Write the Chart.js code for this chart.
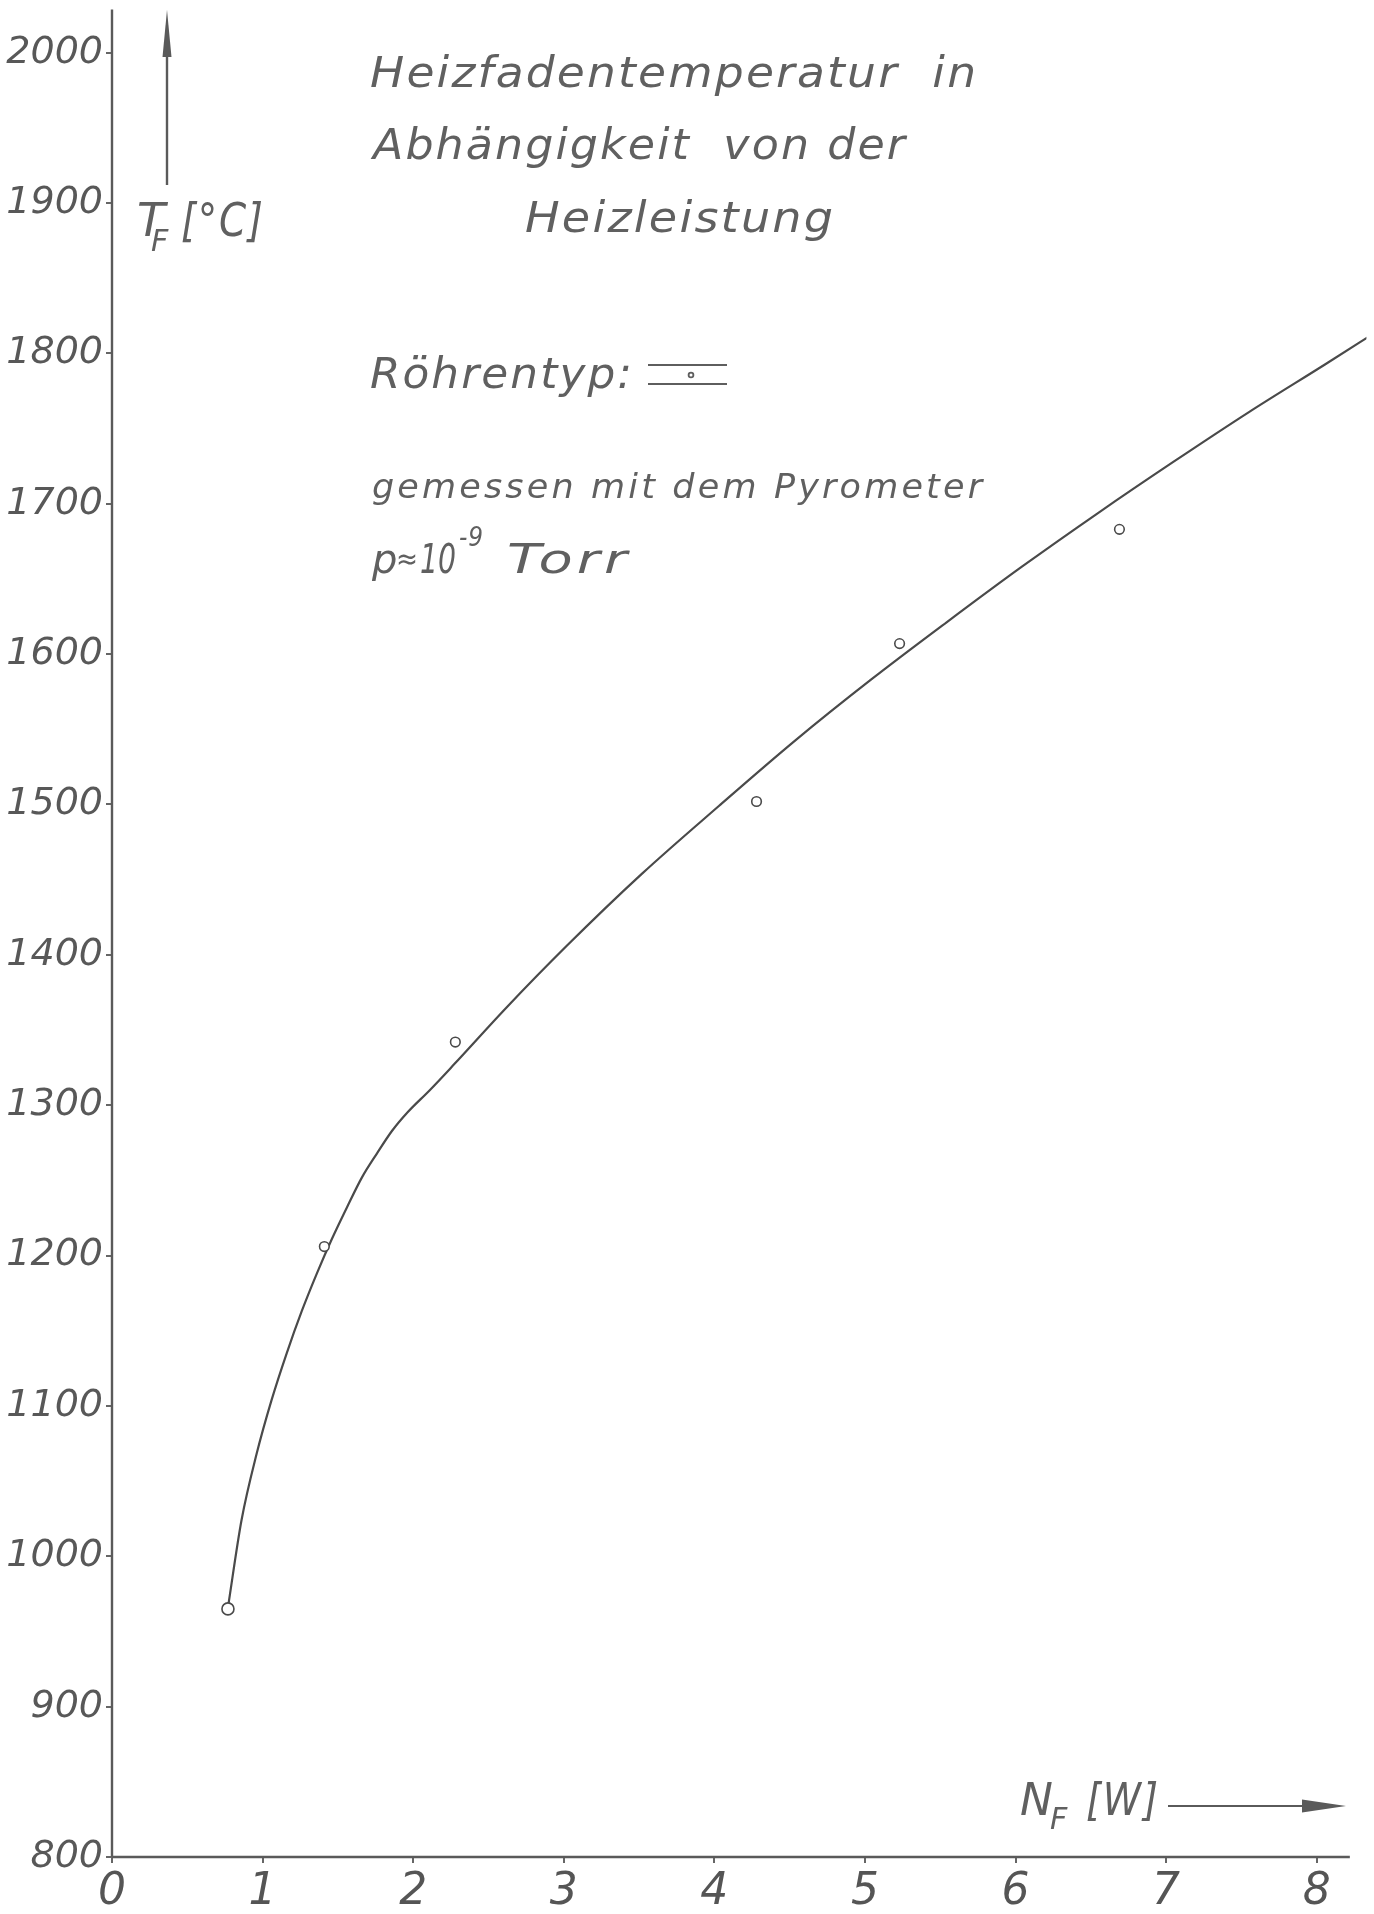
<!DOCTYPE html>
<html>
<head>
<meta charset="utf-8">
<title>Heizfadentemperatur in Abhängigkeit von der Heizleistung</title>
<script src="https://cdn.jsdelivr.net/npm/chart.js@4"></script>
<style>
  html, body { margin: 0; padding: 0; background: #ffffff; }
  #wrap { position: relative; width: 1374px; height: 1914px; }
  canvas { display: block; }
</style>
</head>
<body>
<div id="wrap"><canvas id="chart" width="1374" height="1914"></canvas></div>
<script>
// Measured points: heating power N_F [W] and filament temperature T_F [°C]
const measuredPowerW = [0.77, 1.41, 2.28, 4.28, 5.23, 6.69];
const measuredTempC  = [965, 1206, 1342, 1502, 1607, 1683];

// Hand-drawn fit curve through the measurements
const curvePowerW = [0.77, 0.86, 0.96, 1.06, 1.16, 1.26, 1.36, 1.46, 1.56, 1.66, 1.76, 1.86, 1.96,
                     2.11, 2.27, 2.62, 3.02, 3.52, 4.03, 4.53, 5.04, 5.54, 6.04, 6.55, 7.05, 7.55, 8.06, 8.39];
const curveTempC  = [966, 1024, 1068, 1104, 1135, 1163, 1188, 1211, 1232, 1252, 1268, 1283, 1295,
                     1310, 1327, 1365, 1406, 1454, 1499, 1542, 1583, 1621, 1658, 1694, 1728, 1761, 1793, 1814];

// Axis ticks
const xTicks = [0, 1, 2, 3, 4, 5, 6, 7, 8];
const yTicks = [800, 900, 1000, 1100, 1200, 1300, 1400, 1500, 1600, 1700, 1800, 1900, 2000];

// Caption lines
const titleLines = ['Heizfadentemperatur  in', 'Abhängigkeit  von der', 'Heizleistung'];
const tubeLabel = 'Röhrentyp:';
const methodLabel = 'gemessen mit dem Pyrometer';

const INK = '#4a4a4a';
const TEXT = '#606060';
const FONT = '"DejaVu Sans", "Liberation Sans", sans-serif';

// Draws lettering stretched horizontally to a given run length
function letter(ctx, str, x, y, size, width, spacing) {
  ctx.save();
  ctx.font = 'italic ' + size + 'px ' + FONT;
  ctx.letterSpacing = (spacing || 0) + 'px';
  const w = ctx.measureText(str).width - (spacing || 0);
  const sx = width ? width / w : 1;
  ctx.translate(x, y);
  ctx.scale(sx, 1);
  ctx.fillText(str, 0, 0);
  ctx.restore();
}

const annotations = {
  id: 'annotations',
  afterDraw(chart) {
    const ctx = chart.ctx;
    const xs = chart.scales.x, ys = chart.scales.y;
    ctx.save();

    // axis lines
    ctx.strokeStyle = '#5a5a5a';
    ctx.lineWidth = 2.4;
    ctx.beginPath();
    ctx.moveTo(xs.getPixelForValue(0), ys.getPixelForValue(800));
    ctx.lineTo(xs.getPixelForValue(8.22), ys.getPixelForValue(800));
    ctx.moveTo(xs.getPixelForValue(0), ys.getPixelForValue(800));
    ctx.lineTo(xs.getPixelForValue(0), chart.chartArea.top + 2);
    ctx.stroke();

    ctx.fillStyle = TEXT;
    ctx.textBaseline = 'alphabetic';
    ctx.textAlign = 'left';

    // caption
    letter(ctx, titleLines[0], 370, 87, 42, 606, 2);
    letter(ctx, titleLines[1], 373, 159, 42, 532, 2);
    letter(ctx, titleLines[2], 525, 232, 42, 308, 2);
    letter(ctx, tubeLabel, 370, 388, 42, 262, 2);

    // tube type mark
    ctx.strokeStyle = '#5e5e5e';
    ctx.lineWidth = 2.2;
    ctx.beginPath();
    ctx.moveTo(648, 365); ctx.lineTo(727, 365);
    ctx.moveTo(648, 384); ctx.lineTo(727, 384);
    ctx.stroke();
    ctx.beginPath();
    ctx.lineWidth = 1.8;
    ctx.arc(691, 375, 2.4, 0, Math.PI * 2);
    ctx.stroke();

    letter(ctx, methodLabel, 372, 498, 33, 610, 3);

    // pressure
    letter(ctx, 'p', 372, 573, 40, 0, 0);
    letter(ctx, '≈', 396, 569, 30, 22, 0);
    letter(ctx, '10', 420, 573, 40, 36, 0);
    letter(ctx, '-9', 459, 546, 27, 24, 1);
    letter(ctx, 'Torr', 507, 573, 40, 120, 3);

    // y axis title with arrow
    letter(ctx, 'T', 137, 236, 46, 0, 0);
    letter(ctx, 'F', 151, 251, 30, 0, 0);
    letter(ctx, '[°C]', 181, 236, 46, 82, 2);

    ctx.strokeStyle = '#5a5a5a';
    ctx.fillStyle = '#5a5a5a';
    ctx.lineWidth = 2.4;
    ctx.beginPath();
    ctx.moveTo(167, 185); ctx.lineTo(167, 30);
    ctx.stroke();
    ctx.beginPath();
    ctx.moveTo(167, 10); ctx.lineTo(171.5, 57); ctx.lineTo(162.5, 57); ctx.closePath();
    ctx.fill();

    // x axis title with arrow
    ctx.fillStyle = TEXT;
    letter(ctx, 'N', 1020, 1815, 44, 0, 0);
    letter(ctx, 'F', 1050, 1829, 30, 0, 0);
    letter(ctx, '[W]', 1086, 1815, 44, 72, 2);

    ctx.fillStyle = '#5a5a5a';
    ctx.lineWidth = 2;
    ctx.beginPath();
    ctx.moveTo(1168, 1806); ctx.lineTo(1320, 1806);
    ctx.stroke();
    ctx.beginPath();
    ctx.moveTo(1346, 1806); ctx.lineTo(1302, 1799.5); ctx.lineTo(1302, 1812.5); ctx.closePath();
    ctx.fill();

    ctx.restore();
  }
};

new Chart(document.getElementById('chart'), {
  type: 'scatter',
  data: {
    datasets: [
      {
        label: 'Messpunkte',
        data: measuredPowerW.map((x, i) => ({ x, y: measuredTempC[i] })),
        showLine: false,
        pointStyle: 'circle',
        pointRadius: measuredPowerW.map((x, i) => (i === 0 ? 6 : 4.8)),
        pointBorderWidth: 1.6,
        pointBorderColor: INK,
        pointBackgroundColor: '#ffffff',
        order: 1
      },
      {
        label: 'Kurve',
        data: curvePowerW.map((x, i) => ({ x, y: curveTempC[i] })),
        showLine: true,
        cubicInterpolationMode: 'monotone',
        borderColor: INK,
        borderWidth: 2.2,
        pointRadius: 0,
        order: 2
      }
    ]
  },
  options: {
    responsive: false,
    animation: false,
    devicePixelRatio: 1,
    layout: { padding: { top: 6, right: 0, bottom: 0, left: 0 } },
    plugins: {
      legend: { display: false },
      tooltip: { enabled: false },
      title: { display: false }
    },
    scales: {
      x: {
        type: 'linear',
        min: 0,
        max: 8.33,
        afterBuildTicks: s => { s.ticks = xTicks.map(v => ({ value: v })); },
        afterFit: s => { s.height = 57; s.paddingLeft = 0; s.paddingRight = 0; },
        grid: { display: true, drawOnChartArea: false, drawTicks: true, tickLength: 6, color: '#666', lineWidth: 2 },
        border: { display: false },
        ticks: {
          autoSkip: false,
          maxRotation: 0,
          padding: 3,
          color: '#555',
          callback: v => String(v),
          font: { family: FONT, size: 44, style: 'italic' }
        }
      },
      y: {
        type: 'linear',
        min: 800,
        max: 2030,
        afterBuildTicks: s => { s.ticks = yTicks.map(v => ({ value: v })); },
        afterFit: s => { s.width = 112; s.paddingTop = 0; s.paddingBottom = 0; },
        grid: { display: true, drawOnChartArea: false, drawTicks: true, tickLength: 6, color: '#666', lineWidth: 2 },
        border: { display: false },
        ticks: {
          autoSkip: false,
          padding: 3,
          color: '#585858',
          callback: v => String(v),
          font: { family: FONT, size: 38, style: 'italic' }
        }
      }
    }
  },
  plugins: [annotations]
});
</script>
</body>
</html>
